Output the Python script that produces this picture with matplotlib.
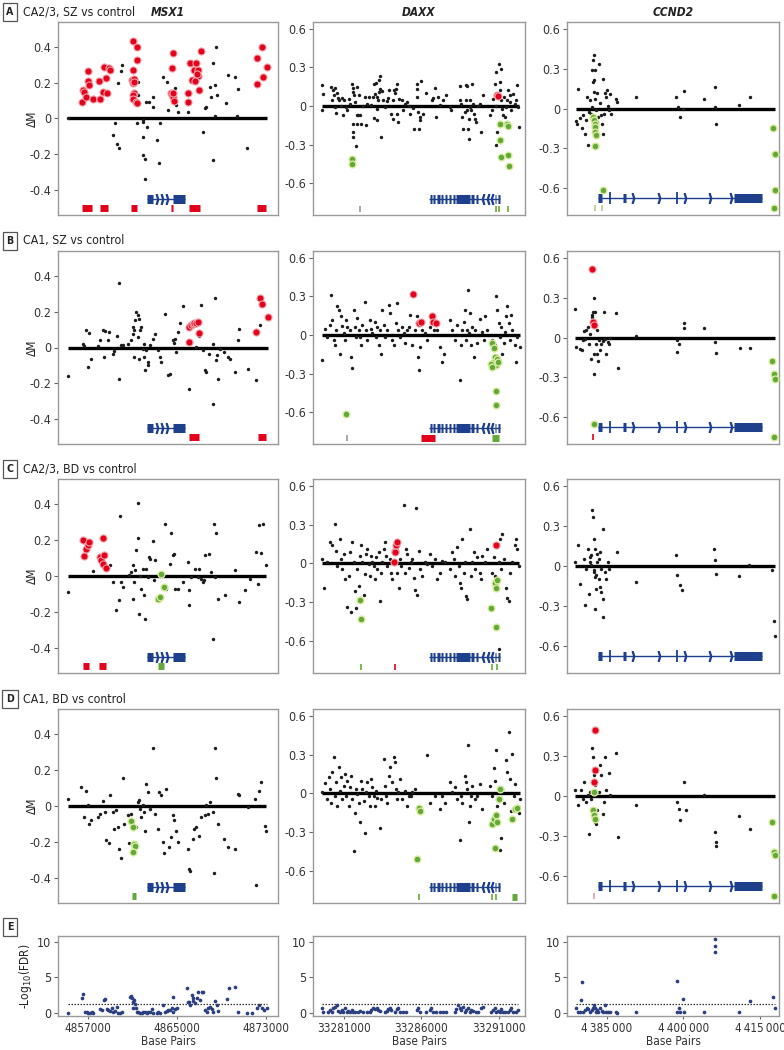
import numpy as np
import matplotlib
matplotlib.use('Agg')
import matplotlib.pyplot as plt
from matplotlib import font_manager as fm
from matplotlib.font_manager import FontProperties

# ---------------- DATA (x in kilobases, y = delta M) ----------------
genes = ['MSX1', 'DAXX', 'CCND2']
row_titles = ['CA2/3, SZ vs control', 'CA1, SZ vs control', 'CA2/3, BD vs control', 'CA1, BD vs control']
row_letters = ['A', 'B', 'C', 'D', 'E']

xlims_kb = [(4854.3, 4874.1), (33279.0, 33292.7), (4377.2, 4418.7)]
ylims = [(-0.54, 0.54), (-0.845, 0.652), (-0.80, 0.65)]
yticks = [[-0.4, -0.2, 0, 0.2, 0.4], [-0.6, -0.3, 0, 0.3, 0.6], [-0.6, -0.3, 0, 0.3, 0.6]]
ytick_labels = [['-0.4', '-0.2', '0', '0.2', '0.4'], ['-0.6', '-0.3', '0', '0.3', '0.6'], ['-0.6', '-0.3', '0', '0.3', '0.6']]
xticks_bp = [[4857000, 4865000, 4873000], [33281000, 33286000, 33291000], [4385000, 4400000, 4415000]]
xtick_labels = [['4857000', '4865000', '4873000'], ['33281000', '33286000', '33291000'],
                ['4\u2009385\u2009000', '4\u2009400\u2009000', '4\u2009415\u2009000']]

# ---- MSX1 ----
A_MSX1_black = [(4855.23,0.005),(4859.43,-0.024),(4859.28,-0.093),(4859.64,-0.144),(4859.82,-0.163),(4859.73,0.196),(4859.97,0.265),(4860.03,0.297),
    (4861.53,0.206),(4861.53,0.13),(4861.38,-0.024),(4861.92,-0.01),(4861.98,-0.02),(4861.92,-0.103),(4861.92,-0.206),(4862.13,-0.224),(4862.13,-0.336),
    (4862.22,0.093),(4862.34,-0.047),(4862.52,0.093),(4862.82,0.062),(4862.88,0.12),(4863.18,-0.121),(4863.42,-0.249),(4863.48,-0.024),(4863.78,0.23),
    (4864.08,0.206),(4864.23,0.047),(4864.83,0.168),(4864.92,0.075),(4865.07,0.034),(4866.03,0.037),(4867.32,-0.075),(4867.53,0.056),(4867.62,0.065),
    (4867.98,0.174),(4868.04,0.118),(4868.22,0.312),(4868.28,-0.234),(4868.43,0.187),(4868.52,0.40),(4868.43,0.013),(4868.64,0.13),(4869.63,0.243),
    (4869.42,0.088),(4870.23,0.23),(4870.44,0.013),(4870.53,0.163),(4871.34,-0.163)]
A_MSX1_red = [(4856.43,0.09),(4856.58,0.16),(4856.64,0.15),(4856.82,0.12),(4856.97,0.265),(4857.03,0.21),(4857.12,0.19),(4857.42,0.11),
    (4858.02,0.21),(4858.08,0.11),(4858.32,0.15),(4858.44,0.29),(4858.59,0.225),(4858.74,0.145),(4858.92,0.28),(4858.98,0.27),
    (4861.02,0.435),(4861.44,0.40),(4861.38,0.33),(4861.02,0.27),(4860.93,0.215),(4861.08,0.20),(4861.17,0.22),(4861.17,0.14),(4861.02,0.13),
    (4861.08,0.11),(4861.32,0.09),(4861.44,0.085),(4861.11,0.205),
    (4864.68,0.364),(4864.53,0.28),(4864.44,0.14),(4864.59,0.13),(4864.68,0.12),(4864.74,0.10),(4864.62,0.145),
    (4866.18,0.31),(4866.33,0.215),(4866.54,0.27),(4866.03,0.095),(4866.72,0.31),(4866.93,0.27),(4866.87,0.24),(4866.63,0.21),(4867.14,0.375),
    (4867.02,0.16),(4866.78,0.25),(4866.03,0.14),
    (4872.63,0.40),(4872.24,0.34),(4873.08,0.29),(4872.72,0.23),(4872.24,0.195)]
A_MSX1_green = []
A_MSX1_bars = [(4856.43,4857.33,'red'),(4858.08,4858.83,'red'),(4860.84,4861.38,'red'),(4864.44,4864.68,'red'),(4866.09,4867.08,'red'),(4872.18,4872.99,'red')]
A_MSX1_ticks = []

B_MSX1_black = [(4855.16,-0.159),(4856.51,0.022),(4856.64,0.007),(4856.82,0.097),(4856.96,-0.108),(4857.09,0.082),(4857.27,-0.062),(4857.86,0.009),
    (4858.08,0.041),(4858.31,0.097),(4858.44,-0.052),(4858.53,0.09),(4858.76,0.041),(4858.89,0.088),(4859.21,-0.034),(4859.34,-0.019),(4859.57,0.064),
    (4859.75,0.363),(4859.79,-0.174),(4859.97,0.013),(4860.11,0.013),(4860.56,0.022),(4860.87,0.041),(4861.01,0.075),(4861.01,0.116),(4861.14,0.097),
    (4861.14,-0.052),(4861.23,0.153),(4861.32,0.2),(4861.46,0.181),(4861.46,0.06),(4861.59,0.162),(4861.59,-0.062),(4861.68,0.097),(4861.77,0.116),
    (4861.91,-0.006),(4862.04,0.022),(4862.04,-0.052),(4862.13,-0.127),(4862.22,-0.015),(4862.36,-0.08),(4862.36,-0.1),(4862.58,0.013),(4862.81,0.05),
    (4863.03,0.075),(4863.26,-0.015),(4863.48,-0.052),(4863.57,-0.08),(4863.93,0.185),(4864.16,-0.155),(4864.38,-0.146),(4864.61,0.041),(4864.74,0.026),
    (4864.83,0.05),(4864.92,-0.024),(4865.1,0.088),(4865.28,0.135),(4865.51,0.234),(4866.05,-0.23),(4866.72,0.004),(4866.99,0.064),(4867.17,0.237),
    (4867.31,-0.015),(4867.53,-0.127),(4867.62,-0.136),(4867.89,-0.034),(4868.21,0.022),(4868.21,-0.318),(4868.43,0.275),(4868.52,-0.071),(4868.57,-0.043),
    (4868.66,-0.174),(4868.88,-0.006),(4869.2,-0.024),(4869.56,-0.052),(4869.78,-0.062),(4870.23,-0.136),(4870.46,0.041),(4870.59,0.106),(4871.36,-0.118),
    (4872.12,-0.183),(4872.48,0.125)]
B_MSX1_red = [(4866.09,0.032),(4866.09,0.116),(4866.27,0.125),(4866.41,0.129),(4866.54,0.135),(4866.72,0.138),(4866.86,0.14),(4866.99,0.082),
    (4872.12,0.088),(4872.48,0.275),(4872.62,0.243),(4873.16,0.168)]
B_MSX1_green = []
B_MSX1_bars = [(4866.09,4866.95,'red'),(4872.26,4873.02,'red')]
B_MSX1_ticks = []

C_MSX1_black = [(4855.16,-0.089),(4857.41,0.026),(4858.98,0.063),(4859.21,-0.034),(4859.52,-0.19),(4859.79,-0.136),(4859.88,0.335),(4859.97,-0.034),
    (4860.11,-0.061),(4860.69,0.007),(4860.87,0.022),(4861.01,0.06),(4861.01,-0.127),(4861.14,-0.034),(4861.23,0.032),(4861.32,0.143),(4861.46,0.404),
    (4861.46,0.209),(4861.59,-0.21),(4861.68,0.0),(4861.77,-0.071),(4861.91,0.037),(4862.04,-0.108),(4862.13,-0.238),(4862.22,0.041),(4862.36,-0.006),
    (4862.49,0.106),(4862.58,0.097),(4862.81,0.194),(4862.94,-0.024),(4863.03,0.088),(4863.93,0.292),(4864.02,-0.071),(4864.38,0.069),(4864.47,0.237),
    (4864.61,0.119),(4864.74,0.125),(4864.83,-0.071),(4865.06,-0.071),(4865.51,-0.034),(4865.96,0.078),(4866.09,-0.08),(4866.09,-0.164),(4866.27,-0.006),
    (4866.63,0.041),(4866.86,-0.006),(4866.99,0.041),(4867.17,-0.015),(4867.31,-0.034),(4867.44,-0.024),(4867.53,0.115),(4867.89,0.125),(4868.07,0.022),
    (4868.21,-0.35),(4868.34,0.292),(4868.43,-0.006),(4868.52,0.237),(4868.66,-0.127),(4869.33,-0.104),(4870.23,0.032),(4870.59,-0.145),(4871.13,-0.08),
    (4871.58,-0.015),(4872.12,0.134),(4872.26,-0.043),(4872.39,0.283),(4872.57,0.13),(4872.71,0.292),(4873.02,0.06)]
C_MSX1_red = [(4856.51,0.2),(4856.64,0.112),(4856.82,0.149),(4856.96,0.171),(4857.09,0.19),(4858.08,0.106),(4858.17,0.088),(4858.31,0.209),
    (4858.31,0.069),(4858.44,0.115),(4858.62,0.045)]
C_MSX1_green = [(4863.26,-0.127),(4863.48,-0.117),(4863.57,0.013),(4863.84,-0.061)]
C_MSX1_bars = [(4856.51,4857.09,'red'),(4857.99,4858.62,'red'),(4863.26,4863.84,'green')]
C_MSX1_ticks = []

D_MSX1_black = [(4855.16,0.041),(4856.37,0.107),(4856.64,-0.062),(4856.82,0.082),(4856.96,0.004),(4857.09,-0.1),(4857.27,-0.08),(4857.86,-0.062),
    (4858.08,-0.043),(4858.31,0.026),(4858.53,-0.034),(4858.62,-0.187),(4858.89,-0.206),(4858.98,0.06),(4859.21,-0.034),(4859.34,-0.127),(4859.52,-0.024),
    (4859.66,-0.118),(4859.79,-0.24),(4859.97,-0.287),(4860.11,0.154),(4860.24,-0.1),(4860.56,-0.052),(4860.69,-0.206),(4860.87,-0.043),(4861.32,-0.118),
    (4861.46,0.022),(4861.59,0.032),(4861.68,-0.015),(4861.77,-0.062),(4861.91,0.007),(4862.04,-0.034),(4862.13,-0.137),(4862.22,0.125),(4862.36,0.079),
    (4862.58,-0.015),(4862.81,0.322),(4863.03,-0.043),(4863.26,-0.127),(4863.39,0.079),(4863.57,0.06),(4863.71,-0.202),(4863.84,-0.262),(4864.02,0.097),
    (4864.29,-0.23),(4864.47,-0.174),(4864.61,-0.052),(4864.74,-0.08),(4864.92,-0.137),(4865.06,-0.202),(4865.96,-0.24),(4866.09,-0.352),(4866.18,-0.361),
    (4866.41,-0.183),(4866.54,-0.127),(4866.72,-0.118),(4866.99,-0.165),(4867.17,-0.062),(4867.53,-0.052),(4867.62,0.004),(4867.76,-0.043),(4867.98,0.022),
    (4868.21,-0.034),(4868.34,-0.371),(4868.43,0.322),(4868.52,0.157),(4868.66,-0.1),(4869.24,-0.183),(4869.56,-0.23),(4870.23,-0.24),(4870.46,0.066),
    (4870.59,0.06),(4871.36,-0.006),(4872.03,0.041),(4872.12,-0.442),(4872.39,0.082),(4872.57,0.131),(4872.93,-0.109),(4873.02,-0.137)]
D_MSX1_red = []
D_MSX1_green = [(4860.87,-0.086),(4861.01,-0.118),(4861.14,-0.212),(4861.23,-0.221),(4861.01,-0.258)]
D_MSX1_bars = [(4861.0,4861.32,'green')]
D_MSX1_ticks = []

# ---- DAXX ----
A_DAXX_black = [(33279.56,0.165),(33279.56,-0.034),(33279.67,0.096),(33280.14,0.147),(33280.2,0.049),(33280.27,0.121),(33280.35,0.083),(33280.42,0.142),
    (33280.42,-0.008),(33280.48,-0.054),(33280.53,0.101),(33280.63,0.065),(33280.7,0.044),(33280.78,-0.003),(33280.85,0.065),(33280.96,-0.072),(33281.0,0.044),
    (33281.13,-0.008),(33281.21,-0.034),(33281.34,0.057),(33281.39,0.018),(33281.49,0.173),(33281.56,0.142),(33281.56,0.109),(33281.56,-0.137),(33281.56,-0.2),
    (33281.6,-0.24),(33281.64,0.083),(33281.71,0.031),(33281.77,-0.313),(33281.82,0.147),(33281.86,-0.072),(33281.86,-0.137),(33281.92,-0.072),(33281.99,0.083),
    (33282.03,-0.072),(33282.07,-0.137),(33282.2,-0.003),(33282.35,0.07),(33282.42,-0.15),(33282.5,0.013),(33282.63,0.07),(33282.78,0.005),(33282.89,0.07),
    (33282.93,0.173),(33282.93,-0.09),(33283.0,0.09),(33283.06,0.178),(33283.11,0.07),(33283.11,-0.021),(33283.15,-0.106),(33283.21,0.044),(33283.28,0.109),
    (33283.28,0.199),(33283.32,0.134),(33283.36,0.23),(33283.39,-0.24),(33283.43,0.116),(33283.54,0.044),(33283.64,-0.008),(33283.75,0.039),(33283.86,0.065),
    (33283.92,0.121),(33284.01,-0.059),(33284.14,-0.098),(33284.18,0.044),(33284.22,0.121),(33284.29,0.101),(33284.35,0.134),(33284.4,0.173),(33284.44,-0.059),
    (33284.5,-0.124),(33284.57,0.057),(33284.72,0.044),(33284.83,-0.028),(33284.93,0.018),(33285.08,0.031),(33285.21,-0.003),(33285.26,-0.059),(33285.43,-0.013),
    (33285.51,-0.176),(33285.69,0.173),(33285.69,0.07),(33285.73,0.134),(33285.79,-0.047),(33285.86,-0.176),(33285.9,-0.085),(33285.94,-0.111),(33286.01,0.191),
    (33286.12,-0.059),(33286.33,0.101),(33286.72,0.044),(33286.76,0.065),(33286.87,0.142),(33286.93,-0.085),(33287.08,0.07),(33287.19,0.005),(33287.41,0.044),
    (33287.62,0.083),(33287.84,-0.008),(33287.94,-0.034),(33288.48,0.153),(33288.52,0.044),(33288.59,0.018),(33288.65,-0.085),(33288.7,-0.176),(33288.8,-0.047),
    (33288.87,0.044),(33288.91,0.165),(33288.95,0.153),(33288.98,-0.034),(33289.02,-0.176),(33289.06,-0.098),(33289.08,-0.253),(33289.13,0.044),(33289.17,-0.008),
    (33289.23,-0.034),(33289.3,0.173),(33289.34,0.018),(33289.38,-0.059),(33289.45,-0.098),(33289.56,-0.124),(33289.66,-0.003),(33289.77,0.013),(33289.88,-0.2),
    (33289.99,0.083),(33290.42,-0.072),(33290.59,-0.034),(33290.63,0.057),(33290.74,0.173),(33290.8,-0.003),(33290.85,0.264),(33290.85,-0.305),(33290.89,-0.2),
    (33291.02,0.328),(33291.06,0.121),(33291.1,0.186),(33291.17,0.289),(33291.17,0.044),(33291.23,-0.021),(33291.28,-0.072),(33291.32,0.07),(33291.38,-0.085),
    (33291.45,-0.008),(33291.53,0.044),(33291.6,0.121),(33291.71,0.083),(33291.75,0.031),(33291.81,-0.034),(33291.92,0.096),(33292.03,0.018),(33292.09,0.044),
    (33292.18,0.160),(33292.24,-0.008),(33292.31,-0.163)]
A_DAXX_red = [(33290.89,0.088),(33290.98,0.075)]
A_DAXX_green = [(33281.49,-0.41),(33281.49,-0.447),(33291.06,-0.137),(33291.1,-0.266),(33291.13,-0.395),(33291.53,-0.142),(33291.6,-0.158),(33291.62,-0.38),(33291.64,-0.465)]
A_DAXX_bars = []
A_DAXX_ticks = [(33282.03,'#9a9a9a'),(33290.85,'#6aaa3a'),(33291.02,'#6aaa3a'),(33291.6,'#6aaa3a')]

B_DAXX_black = [(33279.61,-0.196),(33279.77,0.05),(33279.93,-0.013),(33280.1,0.078),(33280.16,0.313),(33280.26,0.117),(33280.35,-0.039),(33280.42,-0.078),
    (33280.48,0.039),(33280.58,0.222),(33280.68,0.196),(33280.74,-0.144),(33280.8,0.144),(33280.9,0.07),(33281.0,0.013),(33281.06,-0.039),(33281.13,0.117),
    (33281.22,0.065),(33281.39,0.039),(33281.45,-0.17),(33281.55,-0.253),(33281.64,0.196),(33281.71,0.065),(33281.77,-0.013),(33281.87,0.131),(33281.97,0.039),
    (33282.03,-0.013),(33282.09,-0.078),(33282.19,0.078),(33282.35,0.256),(33282.42,0.039),(33282.51,-0.039),(33282.68,0.117),(33282.74,0.05),(33282.84,0.013),
    (33283.0,0.104),(33283.06,-0.013),(33283.16,0.065),(33283.26,-0.078),(33283.32,0.039),(33283.39,-0.144),(33283.48,0.196),(33283.58,0.078),(33283.64,-0.013),
    (33283.8,0.039),(33283.9,0.235),(33283.97,0.17),(33284.13,-0.039),(33284.22,-0.078),(33284.35,0.091),(33284.45,0.248),(33284.52,0.039),(33284.61,-0.013),
    (33284.77,0.065),(33284.87,0.013),(33284.93,-0.065),(33285.1,0.039),(33285.19,0.065),(33285.26,0.157),(33285.42,-0.078),(33285.58,0.039),(33285.74,0.144),
    (33285.8,-0.17),(33285.84,-0.274),(33285.9,-0.091),(33286.06,0.039),(33286.22,0.013),(33286.38,-0.039),(33286.55,0.065),(33286.71,0.117),(33286.8,0.039),
    (33287.03,0.039),(33287.19,-0.091),(33287.35,-0.209),(33287.45,-0.144),(33287.84,0.117),(33288.0,0.039),(33288.16,-0.039),(33288.32,0.078),(33288.48,-0.347),
    (33288.55,-0.078),(33288.64,0.039),(33288.74,0.104),(33288.8,0.196),(33288.87,-0.039),(33288.96,0.039),(33289.03,0.352),(33289.06,0.013),(33289.12,0.17),
    (33289.19,-0.078),(33289.29,0.065),(33289.38,-0.17),(33289.45,0.039),(33289.61,-0.065),(33289.77,0.123),(33289.93,0.026),(33290.03,-0.039),(33290.09,0.144),
    (33290.25,0.039),(33290.58,-0.039),(33290.74,-0.078),(33290.83,0.3),(33290.9,0.196),(33291.0,0.091),(33291.06,-0.013),(33291.12,0.065),(33291.22,-0.144),
    (33291.32,-0.065),(33291.38,0.026),(33291.45,0.144),(33291.54,0.222),(33291.64,0.091),(33291.71,-0.039),(33291.77,0.157),(33291.87,0.039),(33292.03,-0.078),
    (33292.09,-0.209),(33292.19,-0.013),(33292.35,-0.091)]
B_DAXX_red = [(33285.48,0.321),(33285.84,0.091),(33286.0,0.104),(33286.71,0.149),(33286.77,0.104),(33286.93,0.097)]
B_DAXX_green = [(33281.16,-0.614),(33290.58,-0.065),(33290.67,-0.104),(33290.74,-0.17),(33290.67,-0.209),(33290.8,-0.235),(33290.9,-0.183),(33290.96,-0.209),
    (33290.48,-0.222),(33290.58,-0.248),(33290.83,-0.436),(33290.83,-0.54)]
B_DAXX_bars = [(33286.0,33286.87,'red'),(33290.58,33291.0,'green')]
B_DAXX_ticks = [(33281.22,'#9a9a9a')]

C_DAXX_black = [(33279.61,0.034),(33279.71,-0.188),(33279.93,0.008),(33280.1,0.165),(33280.26,0.139),(33280.42,0.301),(33280.48,0.099),(33280.58,-0.018),
    (33280.74,0.191),(33280.8,0.034),(33280.9,-0.045),(33281.0,0.073),(33281.06,-0.123),(33281.22,-0.332),(33281.32,-0.097),(33281.39,0.086),(33281.45,-0.372),
    (33281.55,0.165),(33281.64,0.008),(33281.71,-0.215),(33281.77,-0.346),(33281.87,-0.045),(33281.97,-0.175),(33282.03,0.06),(33282.09,0.139),(33282.19,0.008),
    (33282.28,-0.241),(33282.35,-0.084),(33282.42,0.073),(33282.51,0.113),(33282.61,-0.005),(33282.68,-0.097),(33282.74,0.06),(33282.84,0.008),(33282.93,-0.018),
    (33283.0,-0.123),(33283.06,0.047),(33283.16,-0.045),(33283.26,0.086),(33283.32,-0.293),(33283.39,-0.071),(33283.48,0.008),(33283.58,0.113),(33283.64,0.165),
    (33283.71,0.06),(33283.8,-0.018),(33283.97,0.034),(33284.03,-0.071),(33284.13,-0.123),(33284.45,-0.071),(33284.55,-0.188),(33284.61,0.034),(33284.71,-0.018),
    (33284.87,0.453),(33284.93,-0.071),(33285.0,0.113),(33285.1,0.073),(33285.19,-0.031),(33285.32,0.008),(33285.42,0.034),(33285.52,-0.11),(33285.58,-0.202),
    (33285.64,0.427),(33285.74,-0.241),(33285.84,0.099),(33285.9,-0.045),(33286.06,-0.097),(33286.22,0.008),(33286.38,-0.005),(33286.55,0.073),(33286.71,-0.018),
    (33286.87,0.034),(33287.03,-0.123),(33287.19,-0.071),(33287.35,0.021),(33287.51,0.008),(33287.84,-0.045),(33288.0,0.086),(33288.1,0.034),(33288.16,-0.097),
    (33288.32,0.126),(33288.42,-0.018),(33288.48,-0.149),(33288.55,-0.188),(33288.64,0.191),(33288.74,-0.071),(33288.8,0.008),(33288.87,-0.254),(33288.96,-0.275),
    (33289.12,0.27),(33289.19,-0.097),(33289.29,0.008),(33289.38,0.086),(33289.45,-0.045),(33289.61,0.047),(33289.77,-0.071),(33289.83,-0.123),(33289.93,0.06),
    (33290.09,0.008),(33290.25,0.113),(33290.58,-0.071),(33290.67,0.047),(33290.74,-0.097),(33290.9,0.126),(33291.0,0.008),(33291.06,0.191),(33291.16,-0.045),
    (33291.22,0.23),(33291.32,0.034),(33291.45,-0.188),(33291.54,-0.267),(33291.64,-0.293),(33291.71,-0.071),(33291.87,0.008),(33292.03,0.139),(33292.09,0.191),
    (33292.19,0.113),(33292.28,-0.018),(33290.99,-0.66)]
C_DAXX_red = [(33284.29,0.1),(33284.29,0.086),(33284.35,0.139),(33284.45,0.165),(33284.22,0.008),(33290.83,0.139)]
C_DAXX_green = [(33282.03,-0.28),(33282.09,-0.43),(33290.74,-0.149),(33290.8,-0.188),(33290.9,-0.126),(33290.51,-0.346),(33290.83,-0.49)]
C_DAXX_bars = []
C_DAXX_ticks = [(33282.09,'#6aaa3a'),(33284.29,'#e2001a'),(33290.58,'#6aaa3a'),(33290.9,'#6aaa3a')]

D_DAXX_black = [(33279.61,0.008),(33279.77,0.081),(33279.93,-0.044),(33280.03,0.125),(33280.1,0.034),(33280.16,-0.07),(33280.26,0.164),(33280.35,0.281),
    (33280.42,-0.018),(33280.48,0.086),(33280.58,-0.096),(33280.68,0.203),(33280.74,0.021),(33280.8,0.125),(33280.9,-0.044),(33281.0,0.06),(33281.06,0.151),
    (33281.13,-0.018),(33281.22,0.099),(33281.32,-0.096),(33281.39,0.047),(33281.45,0.138),(33281.55,-0.044),(33281.64,-0.447),(33281.71,-0.148),(33281.77,0.034),
    (33281.87,-0.005),(33281.97,-0.07),(33282.03,-0.221),(33282.09,0.099),(33282.19,0.034),(33282.28,-0.057),(33282.35,-0.304),(33282.42,0.008),(33282.51,0.086),
    (33282.61,-0.018),(33282.68,-0.096),(33282.74,0.112),(33282.84,0.047),(33282.93,-0.018),(33283.0,-0.096),(33283.06,0.021),(33283.16,-0.031),(33283.32,-0.265),
    (33283.39,-0.044),(33283.58,0.268),(33283.64,0.06),(33283.71,-0.018),(33283.8,-0.07),(33283.9,0.138),(33283.97,0.203),(33284.13,0.086),(33284.22,0.281),
    (33284.29,0.242),(33284.35,0.034),(33284.45,-0.044),(33284.52,0.008),(33284.61,0.112),(33284.77,-0.044),(33284.93,0.021),(33285.1,-0.096),(33285.19,-0.018),
    (33285.32,-0.018),(33285.42,0.008),(33285.58,0.034),(33286.38,0.294),(33286.55,-0.07),(33286.87,-0.018),(33287.19,-0.122),(33287.35,-0.018),(33287.51,-0.07),
    (33287.84,0.086),(33288.0,0.008),(33288.16,0.047),(33288.32,-0.044),(33288.48,-0.361),(33288.55,-0.018),(33288.64,-0.07),(33288.8,0.138),(33288.87,0.086),
    (33288.96,0.034),(33289.03,0.377),(33289.06,-0.221),(33289.12,-0.096),(33289.19,-0.018),(33289.29,0.06),(33289.45,-0.044),(33289.61,-0.018),(33289.77,0.073),
    (33289.93,-0.122),(33290.41,0.06),(33290.58,-0.018),(33290.67,0.195),(33290.74,0.099),(33290.83,0.332),(33290.9,-0.096),(33291.06,-0.434),(33291.12,-0.343),
    (33291.22,0.034),(33291.32,-0.07),(33291.45,0.255),(33291.54,0.164),(33291.64,0.475),(33291.71,0.112),(33291.77,-0.135),(33291.87,0.306),(33291.97,-0.018),
    (33292.03,0.073),(33292.19,-0.096),(33292.28,-0.148),(33292.35,-0.044)]
D_DAXX_red = []
D_DAXX_green = [(33285.84,-0.109),(33285.9,-0.135),(33285.74,-0.506),(33290.58,-0.239),(33290.67,-0.2),(33290.8,-0.169),(33290.9,-0.221),(33290.74,-0.42),
    (33291.0,-0.044),(33291.06,0.034),(33291.87,-0.2),(33292.03,-0.122),(33292.19,-0.109)]
D_DAXX_bars = [(33291.87,33292.19,'green')]
D_DAXX_ticks = [(33285.84,'#6aaa3a'),(33290.58,'#6aaa3a'),(33290.83,'#6aaa3a')]

# ---- CCND2 ----
A_CCND2_black = [(4378.96,-0.093),(4379.09,-0.118),(4379.42,0.143),(4379.74,-0.075),(4380.07,-0.143),(4380.4,-0.05),(4380.72,-0.188),(4380.92,-0.088),
    (4381.18,0.088),(4381.37,-0.275),(4381.57,-0.025),(4381.7,0.063),(4381.83,-0.038),(4382.03,0.288),(4382.09,0.013),(4382.22,0.2),(4382.35,0.363),(4382.42,0.4),
    (4382.48,0.213),(4382.55,0.125),(4382.68,0.288),(4382.74,0.075),(4382.87,-0.013),(4383.0,0.113),(4383.13,-0.1),(4383.33,-0.063),(4383.52,0.333),(4383.66,0.038),
    (4383.79,-0.05),(4383.98,-0.113),(4384.18,-0.188),(4384.31,0.225),(4384.44,-0.043),(4384.63,0.113),(4384.83,0.088),(4385.09,0.138),(4385.28,0.018),
    (4385.48,-0.013),(4385.61,0.108),(4385.74,-0.038),(4386.78,0.075),(4386.91,0.05),(4390.7,0.088),(4398.52,0.088),(4398.98,0.013),(4399.3,-0.062),(4399.96,0.0),
    (4400.09,0.133),(4404.0,0.068),(4406.15,0.163),(4406.15,0.013),(4406.34,-0.118),(4410.91,0.023),(4412.99,0.088)]
A_CCND2_red = []
A_CCND2_green = [(4382.35,-0.062),(4382.48,-0.088),(4382.61,-0.113),(4382.74,-0.138),(4382.68,-0.175),(4382.81,-0.2),(4382.74,-0.278),(4384.31,-0.613),
    (4417.43,-0.143),(4417.88,-0.338),(4417.88,-0.613),(4417.75,-0.75)]
A_CCND2_bars = []
A_CCND2_ticks = [(4382.68,'#b8c890'),(4383.98,'#b8c890')]

B_CCND2_black = [(4378.77,0.217),(4378.97,-0.071),(4379.75,-0.083),(4380.04,-0.096),(4380.24,-0.02),(4380.53,0.05),(4380.73,-0.008),(4380.92,0.06),
    (4381.22,0.081),(4381.51,-0.045),(4381.7,0.03),(4381.9,-0.159),(4382.19,0.156),(4382.39,0.295),(4382.49,-0.121),(4382.49,-0.277),(4382.68,0.194),
    (4382.88,-0.045),(4383.17,0.055),(4383.17,-0.121),(4383.27,-0.179),(4383.46,-0.02),(4383.66,-0.096),(4383.86,-0.045),(4384.15,-0.025),(4384.44,0.194),
    (4384.64,-0.008),(4384.83,-0.121),(4385.13,-0.033),(4385.42,-0.045),(4385.62,0.0),(4386.79,0.181),(4387.28,-0.227),(4390.7,0.015),(4398.82,-0.02),
    (4398.82,-0.108),(4399.11,-0.045),(4400.09,0.106),(4400.09,0.068),(4404.0,0.068),(4406.15,-0.033),(4406.35,-0.12),(4411.04,-0.076),(4412.99,-0.076),
    (4382.0,0.17),(4382.29,0.19)]
B_CCND2_red = [(4382.19,0.514),(4382.29,0.118),(4382.49,0.093)]
B_CCND2_green = [(4382.49,-0.65),(4417.39,-0.179),(4417.68,-0.272),(4417.88,-0.31),(4417.68,-0.75)]
B_CCND2_bars = []
B_CCND2_ticks = [(4382.29,'#e2001a')]

C_CCND2_black = [(4378.77,0.03),(4379.26,0.155),(4379.75,-0.133),(4380.53,0.055),(4380.73,-0.295),(4380.92,-0.02),(4381.22,0.13),(4381.51,-0.208),
    (4381.7,0.03),(4381.9,0.08),(4382.19,0.418),(4382.29,0.368),(4382.49,0.205),(4382.49,-0.045),(4382.68,-0.32),(4382.68,0.13),(4382.88,-0.07),(4382.88,-0.17),
    (4383.17,0.03),(4383.46,-0.095),(4383.66,0.105),(4383.86,-0.02),(4384.15,-0.383),(4384.15,-0.245),(4384.34,0.28),(4384.64,-0.045),(4384.83,-0.095),
    (4385.13,0.03),(4385.42,-0.02),(4387.08,0.105),(4390.7,-0.12),(4398.52,0.08),(4398.82,-0.07),(4399.31,-0.145),(4399.8,-0.183),(4405.96,0.13),(4406.15,0.043),
    (4406.35,-0.058),(4410.85,-0.075),(4412.8,0.005),(4417.39,-0.033),(4417.68,-0.415),(4417.88,-0.52),
    (4381.7,0.068),(4381.99,0.005),(4382.39,-0.028),(4382.68,-0.083),(4383.07,0.093),(4383.37,0.055),(4383.66,-0.158),(4383.95,-0.195)]
C_CCND2_red = []
C_CCND2_green = []
C_CCND2_bars = []
C_CCND2_ticks = []

D_CCND2_black = [(4378.77,0.043),(4379.26,-0.07),(4379.95,0.043),(4380.24,-0.02),(4380.53,0.106),(4380.92,-0.045),(4381.22,0.005),(4381.51,-0.284),
    (4381.7,0.03),(4381.9,-0.02),(4382.19,0.357),(4382.29,0.294),(4382.49,0.156),(4382.68,0.08),(4382.68,-0.196),(4382.88,-0.209),(4383.17,-0.108),
    (4383.46,0.03),(4383.66,0.231),(4383.86,0.156),(4384.15,-0.133),(4384.44,-0.045),(4384.64,0.294),(4384.83,0.043),(4385.42,0.168),(4385.62,0.005),
    (4386.79,0.319),(4387.28,-0.309),(4390.7,-0.07),(4398.82,-0.045),(4399.11,-0.095),(4399.31,-0.183),(4400.09,0.106),(4400.48,-0.108),(4404.0,0.01),
    (4406.15,-0.271),(4406.35,-0.347),(4406.35,-0.372),(4410.85,-0.151),(4412.99,-0.246)]
D_CCND2_red = [(4382.68,0.495),(4382.68,0.193),(4382.49,0.106)]
D_CCND2_green = [(4382.49,0.03),(4382.29,-0.108),(4382.49,-0.146),(4382.68,-0.171),(4417.39,-0.196),(4417.68,-0.417),(4417.88,-0.442),(4417.68,-0.75)]
D_CCND2_bars = []
D_CCND2_ticks = [(4382.49,'#d8a0b0')]

# ---- E: -log10(FDR) ----
E_MSX1 = [(4855.23,0.09),(4856.43,2.09),(4856.58,2.65),(4856.73,0.23),(4856.88,0.14),(4857.03,0.09),(4857.18,0.09),(4857.33,0.14),(4857.48,0.09),
    (4858.08,0.6),(4858.23,0.47),(4858.44,1.86),(4858.53,2.0),(4858.68,0.56),(4858.83,0.47),(4858.98,0.37),(4859.13,0.7),(4859.28,0.14),(4859.43,0.33),
    (4859.58,0.88),(4859.73,0.09),(4859.88,0.09),(4860.03,0.23),(4860.78,2.33),(4860.87,2.45),(4860.93,2.09),(4861.02,1.53),(4861.08,0.7),(4861.14,1.86),
    (4861.23,1.26),(4861.32,0.7),(4861.38,0.23),(4861.53,0.23),(4861.68,0.09),(4861.83,0.09),(4861.98,0.14),(4862.13,0.19),(4862.28,0.09),(4862.43,0.14),
    (4862.58,0.23),(4862.73,0.6),(4862.88,0.09),(4863.18,0.09),(4863.33,0.23),(4863.48,0.09),(4863.78,1.16),(4863.93,0.23),(4864.08,0.33),(4864.23,0.47),
    (4864.38,0.51),(4864.53,0.7),(4864.62,2.23),(4864.68,0.23),(4864.83,0.6),(4864.98,0.79),(4865.94,3.58),(4866.03,1.53),(4866.12,1.63),(4866.18,1.16),
    (4866.33,2.56),(4866.42,2.09),(4866.48,1.72),(4866.63,1.4),(4866.78,2.19),(4866.93,3.0),(4867.08,1.86),(4867.23,3.0),(4867.38,2.93),(4867.53,0.47),
    (4867.68,0.23),(4867.83,0.7),(4867.98,0.93),(4868.13,0.6),(4868.28,0.23),(4868.43,1.72),(4868.58,1.16),(4868.73,0.33),(4869.48,2.0),(4869.72,3.49),
    (4870.23,3.63),(4870.53,0.23),(4871.28,0.09),(4871.73,0.09),(4872.18,0.7),(4872.42,1.16),(4872.63,0.7),(4872.84,0.47),(4873.08,0.79)]
E_DAXX = [(33279.56,0.7),(33279.67,0.23),(33279.99,0.14),(33280.1,0.47),(33280.2,0.23),(33280.31,0.7),(33280.42,0.93),(33280.53,1.16),(33280.63,0.33),
    (33280.74,0.23),(33280.85,0.47),(33280.96,0.23),(33281.06,0.7),(33281.17,0.14),(33281.28,0.33),(33281.39,0.23),(33281.49,0.47),(33281.6,0.23),
    (33281.71,0.14),(33281.92,0.14),(33282.03,0.33),(33282.25,0.23),(33282.46,0.14),(33282.68,0.23),(33282.78,0.47),(33282.89,0.7),(33283.0,0.6),
    (33283.11,0.79),(33283.21,0.47),(33283.32,0.33),(33283.64,0.23),(33283.75,0.37),(33283.86,0.6),(33283.97,0.7),(33284.07,0.47),(33284.29,0.23),
    (33284.4,0.56),(33284.5,0.79),(33284.61,0.23),(33284.83,0.14),(33285.04,0.23),(33285.69,0.47),(33285.79,0.7),(33285.9,0.14),(33286.33,0.23),
    (33286.55,0.47),(33286.65,0.79),(33286.76,0.23),(33286.98,0.14),(33287.19,0.14),(33287.41,0.23),(33287.62,0.23),(33288.16,0.23),(33288.27,0.6),
    (33288.37,1.16),(33288.48,0.7),(33288.59,0.47),(33288.7,0.93),(33288.8,0.23),(33288.91,0.47),(33289.02,0.7),(33289.13,0.23),(33289.23,0.47),
    (33289.34,0.33),(33289.56,0.23),(33289.66,0.14),(33289.88,0.7),(33289.99,0.93),(33290.52,0.23),(33290.63,0.47),(33290.74,0.7),(33290.85,0.23),
    (33290.95,0.33),(33291.06,0.23),(33291.17,0.56),(33291.28,0.23),(33291.38,0.14),(33291.6,0.23),(33291.71,0.47),(33291.81,0.7),(33291.92,0.23),
    (33292.14,0.14),(33292.24,0.47)]
E_CCND2 = [(4378.96,0.7),(4379.42,0.23),(4379.74,0.14),(4379.94,1.86),(4380.13,4.33),(4380.4,0.23),(4380.72,0.47),(4381.05,0.7),(4381.37,0.6),
    (4381.7,0.23),(4382.03,0.47),(4382.35,0.79),(4382.48,1.16),(4382.68,0.7),(4382.87,0.23),(4383.0,0.47),(4383.33,0.23),(4383.66,0.7),(4383.98,0.37),
    (4384.31,0.23),(4384.63,1.16),(4384.83,0.23),(4385.28,0.23),(4385.61,0.14),(4386.78,0.14),(4387.05,0.09),(4390.7,0.23),(4398.65,0.14),(4398.78,4.5),
    (4399.17,0.79),(4399.3,0.23),(4399.96,2.0),(4400.09,0.23),(4404.0,0.14),(4406.22,10.37),(4406.22,9.44),(4406.22,8.51),(4410.91,0.14),(4412.99,1.72),
    (4417.43,2.23),(4417.88,0.7)]
fdr_threshold = 1.3

# ---- gene models (kb) ----
MSX1_model = dict(y=-0.45, span=(4862.28, 4865.73), exons=[(4862.34, 4862.88), (4864.62, 4865.73)], marks=[], chevrons=[4863.18, 4863.63, 4864.08], strand='+')
DAXX_model = dict(y=-0.72, span=(33286.50, 33291.06),
                  exons=[(33286.55,33286.68),(33286.76,33286.91),(33287.02,33287.19),(33287.28,33287.43),(33287.51,33287.66),(33287.77,33287.92),
                         (33288.03,33288.18),(33288.27,33289.13),(33289.21,33289.38),(33289.51,33289.69),(33290.74,33290.85),(33290.98,33291.06)],
                  marks=[], chevrons=[33289.99, 33290.31, 33290.59], strand='-')
CCND2_model = dict(y=-0.67, span=(4383.33, 4415.41), exons=[(4383.33, 4383.98), (4388.22, 4388.74), (4409.87, 4415.41)],
                   marks=[4385.61, 4398.65], chevrons=[4390.05, 4395.26, 4400.28, 4405.17, 4409.3], strand='+')
models = [MSX1_model, DAXX_model, CCND2_model]
bar_y = [-0.50, -0.80, -0.75]

# ---------------- FONTS ----------------
_entries = [(f.name, f.stretch) for f in fm.fontManager.ttflist]
if any(n == 'Liberation Sans Narrow' for n, s in _entries):
    COND = dict(family=['Liberation Sans Narrow', 'DejaVu Sans'], stretch='normal')
    SCALE = 1.05
elif any(n == 'DejaVu Sans' and s in ('condensed', 'semi-condensed') for n, s in _entries):
    COND = dict(family=['DejaVu Sans'], stretch='condensed')
    SCALE = 0.95
else:
    COND = dict(family=['Roboto', 'DejaVu Sans'], stretch='normal')
    SCALE = 0.95

def fp(size, **kw):
    d = dict(COND)
    d.update(kw)
    return FontProperties(size=size * SCALE, **d)

# ---------------- FIGURE ----------------
W, H = 784, 1050
fig = plt.figure(figsize=(W/100, H/100), dpi=100)
fig.patch.set_facecolor('white')

col_x = [(58, 278), (313, 525), (567, 779)]
row_y = [(22, 215), (251, 444), (479, 673), (709, 903)]
e_y = (936, 1016)
label_y = [12, 241, 469, 699, 927]

BLACK = '#1c1c1c'
RED = '#e2001a'
GREEN = '#63a83a'
BLUE = '#1d3f8c'
FRAME = '#9a9a9a'
YTICKFP = fp(9.5)
XTICKFP = fp(8.8)

def make_ax(x0, x1, y0, y1):
    ax = fig.add_axes([x0/W, 1 - y1/H, (x1 - x0)/W, (y1 - y0)/H])
    for s in ax.spines.values():
        s.set_color(FRAME)
        s.set_linewidth(1.0)
    ax.tick_params(axis='y', length=3, width=0.8, color='#666666', labelcolor='#333333', pad=2)
    ax.tick_params(axis='x', length=2.5, width=0.8, color='#666666', labelcolor='#333333', pad=1.5)
    return ax

panels = {
    ('A', 0): (A_MSX1_black, A_MSX1_red, A_MSX1_green, A_MSX1_bars, A_MSX1_ticks),
    ('B', 0): (B_MSX1_black, B_MSX1_red, B_MSX1_green, B_MSX1_bars, B_MSX1_ticks),
    ('C', 0): (C_MSX1_black, C_MSX1_red, C_MSX1_green, C_MSX1_bars, C_MSX1_ticks),
    ('D', 0): (D_MSX1_black, D_MSX1_red, D_MSX1_green, D_MSX1_bars, D_MSX1_ticks),
    ('A', 1): (A_DAXX_black, A_DAXX_red, A_DAXX_green, A_DAXX_bars, A_DAXX_ticks),
    ('B', 1): (B_DAXX_black, B_DAXX_red, B_DAXX_green, B_DAXX_bars, B_DAXX_ticks),
    ('C', 1): (C_DAXX_black, C_DAXX_red, C_DAXX_green, C_DAXX_bars, C_DAXX_ticks),
    ('D', 1): (D_DAXX_black, D_DAXX_red, D_DAXX_green, D_DAXX_bars, D_DAXX_ticks),
    ('A', 2): (A_CCND2_black, A_CCND2_red, A_CCND2_green, A_CCND2_bars, A_CCND2_ticks),
    ('B', 2): (B_CCND2_black, B_CCND2_red, B_CCND2_green, B_CCND2_bars, B_CCND2_ticks),
    ('C', 2): (C_CCND2_black, C_CCND2_red, C_CCND2_green, C_CCND2_bars, C_CCND2_ticks),
    ('D', 2): (D_CCND2_black, D_CCND2_red, D_CCND2_green, D_CCND2_bars, D_CCND2_ticks),
}

def to_bp(v):
    return np.asarray(v, dtype=float) * 1000.0

def draw_gene(ax, m):
    y = m['y']
    ax.plot(to_bp(m['span']), [y, y], color=BLUE, lw=1.0, zorder=3, solid_capstyle='butt')
    for (a, b) in m['exons']:
        ax.plot(to_bp([a, b]), [y, y], color=BLUE, lw=6.5, zorder=4, solid_capstyle='butt')
    for xm in m['marks']:
        ax.plot(to_bp([xm]), [y], marker='|', ms=9, mew=1.3, color=BLUE, zorder=4)
    mk = r'$\rangle$' if m['strand'] == '+' else r'$\langle$'
    ax.plot(to_bp(m['chevrons']), [y]*len(m['chevrons']), ls='none', marker=mk, ms=7, color=BLUE, zorder=4)

for ri, letter in enumerate(['A', 'B', 'C', 'D']):
    for ci in range(3):
        black, red, green, bars, ticks = panels[(letter, ci)]
        ax = make_ax(col_x[ci][0], col_x[ci][1], row_y[ri][0], row_y[ri][1])
        ax.set_xlim(*to_bp(xlims_kb[ci]))
        ax.set_ylim(*ylims[ci])
        ax.set_yticks(yticks[ci])
        ax.set_yticklabels(ytick_labels[ci], fontproperties=YTICKFP)
        ax.set_xticks([])
        allx = [p[0] for p in black + red + green]
        ax.plot(to_bp([min(allx), max(allx)]), [0, 0], color='black', lw=2.4, zorder=2, solid_capstyle='butt')
        if black:
            bx, by = zip(*black)
            ax.scatter(to_bp(bx), by, s=6, color=BLACK, lw=0, zorder=5)
        if red:
            rx, ry = zip(*red)
            ax.scatter(to_bp(rx), ry, s=26, color=RED, edgecolors='#f4a0a8', linewidths=0.8, zorder=6)
        if green:
            gx, gy = zip(*green)
            ax.scatter(to_bp(gx), gy, s=24, color=GREEN, edgecolors='#d6ec9c', linewidths=1.0, zorder=6)
        for (a, b, c) in bars:
            ax.plot(to_bp([a, b]), [bar_y[ci]]*2, color=RED if c == 'red' else GREEN, lw=5, solid_capstyle='butt', zorder=5)
        for (xm, c) in ticks:
            ax.plot(to_bp([xm]), [bar_y[ci]], marker='|', ms=5, mew=1.2, color=c, zorder=5)
        draw_gene(ax, models[ci])
        if ci == 0:
            fig.text(32/W, 1 - ((row_y[ri][0] + row_y[ri][1]) / 2) / H, 'ΔM', rotation=90, ha='center', va='center',
                     fontproperties=fp(9), color='#222222')
        if ri == 0:
            fig.text(((col_x[ci][0] + col_x[ci][1]) / 2) / W, 1 - 12/H, genes[ci], ha='center', va='center',
                     fontproperties=fp(9, style='italic', weight='bold'), color='#222222')

E_data = [E_MSX1, E_DAXX, E_CCND2]
for ci in range(3):
    ax = make_ax(col_x[ci][0], col_x[ci][1], e_y[0], e_y[1])
    ax.set_xlim(*to_bp(xlims_kb[ci]))
    ax.set_ylim(-0.4, 10.8)
    ax.set_yticks([0, 5, 10])
    ax.set_yticklabels(['0', '5', '10'], fontproperties=YTICKFP)
    ax.set_xticks(xticks_bp[ci])
    ax.set_xticklabels(xtick_labels[ci], fontproperties=XTICKFP)
    ex, ey = zip(*E_data[ci])
    ax.plot(to_bp([min(ex), max(ex)]), [fdr_threshold]*2, ls=(0, (1.2, 1.2)), color='#333333', lw=0.9, zorder=2)
    ax.scatter(to_bp(ex), ey, s=7, color='#2b3f80', lw=0, zorder=4)
    ax.set_xlabel('Base Pairs', fontproperties=fp(9), color='#333333', labelpad=0.5)
    if ci == 0:
        fig.text(26/W, 1 - ((e_y[0] + e_y[1]) / 2) / H, r'-Log$_{10}$(FDR)', rotation=90, ha='center', va='center',
                 fontproperties=fp(9), color='#222222')

all_titles = row_titles + ['']
for li, letter in enumerate(row_letters):
    fig.text(10/W, 1 - label_y[li]/H, letter, ha='center', va='center', fontproperties=fp(8, weight='bold'), color='#222222',
             bbox=dict(boxstyle='square,pad=0.35', fc='white', ec='#555555', lw=0.9))
    if all_titles[li]:
        fig.text(23/W, 1 - label_y[li]/H, all_titles[li], ha='left', va='center', fontproperties=fp(9.3), color='#222222')

fig.savefig('out.png', dpi=100, facecolor='white')
